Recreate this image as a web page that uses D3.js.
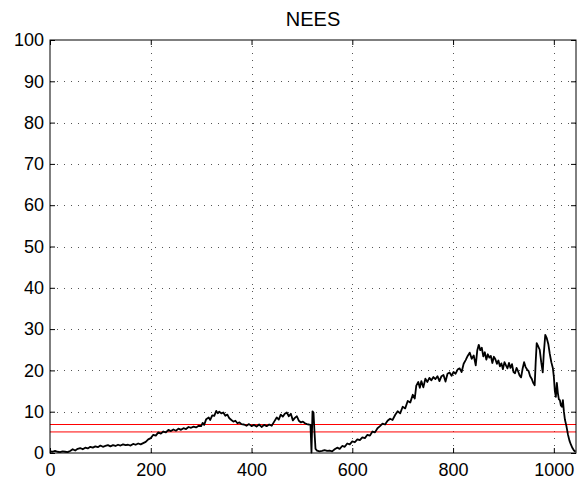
<!DOCTYPE html>
<meta charset="utf-8">
<style>
body { margin: 0; background: #fff; }
text { font-family: "Liberation Sans", Arial, Helvetica, sans-serif; fill: #000; }
.grid line { stroke: #555; stroke-width: 1; stroke-dasharray: 1,6; }
.bound { fill: none; stroke: #f00; stroke-width: 1; }
.nees { fill: none; stroke: #000; stroke-width: 1.8; stroke-linejoin: round; }
.frame { fill: none; stroke: #000; stroke-width: 1; }
.axis path { display: none; }
.axis line { stroke: #000; }
.axis text { font-size: 18px; }
.title { font-size: 20px; }
</style>
<body>
<script src="https://cdn.jsdelivr.net/npm/d3@7"></script>
<script>
var width = 577,
    height = 483;

// sample index and NEES value
var stepX = [0,5,10,15,20,25,30,35,40,45,50,55,60,65,70,75,80,85,90,95,
  100,105,110,115,120,125,130,135,140,145,150,155,160,165,170,175,180,185,190,195,
  200,205,210,215,220,225,230,235,240,245,250,255,260,265,270,275,280,285,290,295,
  300,303,306,310,315,318,322,326,330,333,336,340,344,348,352,356,360,364,368,372,
  376,380,385,390,395,400,405,410,415,420,425,430,435,440,445,450,454,458,462,466,
  470,474,478,482,486,490,494,498,502,506,510,514,517,519,521,523,525,527,530,535,
  540,545,550,555,560,565,570,575,580,585,590,595,600,605,610,615,620,625,630,635,
  640,645,650,655,660,665,670,675,680,685,690,695,700,705,710,715,720,724,727,731,
  734,737,741,745,749,753,757,761,765,769,773,777,781,785,789,793,797,801,805,809,
  813,817,821,825,829,833,837,841,845,848,851,854,857,860,863,866,869,872,875,878,
  881,884,887,890,893,896,899,902,905,908,911,914,917,920,923,926,929,932,935,938,
  941,944,947,950,953,956,959,962,964,966,969,972,975,978,980,983,986,989,992,995,
  998,1000,1002,1004,1006,1008,1010,1012,1014,1016,1018,1020,1022,1025,1028,1031,1034,1037,1040,1043];

var neesY = [0.4,0.3,0.5,0.3,0.2,0.4,0.3,0.2,0.5,0.9,0.6,1.0,1.2,0.9,1.3,1.1,1.5,1.3,1.6,1.4,
  1.8,1.5,1.7,1.9,1.6,1.9,1.7,2.0,1.8,2.1,1.9,2.0,1.8,2.2,2.0,2.3,2.1,2.4,2.7,3.3,
  3.6,4.4,4.2,5.0,4.7,5.2,5.0,5.6,5.3,5.7,5.4,5.9,5.6,6.0,5.8,6.3,6.1,6.4,6.2,6.6,
  6.5,7.3,6.8,8.2,8.6,8.0,9.1,9.0,10.2,9.6,10.0,9.6,9.8,9.0,9.3,8.4,8.0,7.6,7.8,7.2,
  7.4,7.0,6.9,6.6,7.0,6.5,6.8,6.4,6.9,6.3,6.8,6.5,6.9,6.6,7.6,8.6,8.1,9.3,8.8,9.5,
  9.8,8.9,9.5,7.9,8.5,8.9,7.8,7.4,7.6,7.2,7.0,6.9,6.8,0.1,10.1,9.8,5.0,1.0,0.6,0.4,
  0.5,0.7,0.5,0.6,0.4,0.9,1.3,1.0,1.7,1.5,2.3,2.1,2.8,2.6,3.3,3.1,3.8,3.6,4.4,4.2,
  5.2,5.0,6.0,6.5,7.1,6.9,7.8,8.3,8.0,9.2,10.1,9.6,11.2,10.8,12.6,12.2,14.1,13.2,16.3,17.2,
  15.8,17.4,15.9,18.0,17.2,18.2,17.6,18.4,17.9,18.6,17.4,18.6,18.9,17.3,19.2,19.5,18.7,19.6,19.2,20.2,
  20.5,19.6,21.6,22.5,23.5,24.3,22.8,23.6,21.2,24.8,26.2,24.9,25.5,23.4,24.4,22.6,23.9,23.1,23.5,21.8,
  23.3,22.7,21.6,22.4,21.0,21.7,20.3,22.0,21.2,20.5,21.8,20.6,21.5,19.6,19.3,20.6,19.8,18.8,18.3,20.4,
  22.0,20.8,20.2,19.8,18.6,18.0,17.0,16.4,22.0,26.6,25.8,25.0,22.0,19.5,24.0,28.6,27.8,26.4,24.0,22.0,
  20.6,18.5,15.0,13.6,17.0,14.5,13.0,12.8,11.5,11.2,12.8,10.0,8.1,6.5,4.5,3.0,2.0,1.2,0.6,0.3];

// chi-square confidence bounds
var bounds = [5.1, 6.9];

var xTicks = [0, 200, 400, 600, 800, 1000],
    yTicks = [0, 10, 20, 30, 40, 50, 60, 70, 80, 90, 100];

var margin = {top: 40, right: 1, bottom: 30, left: 50};

var x = d3.scaleLinear().domain([0, 1044]).range([margin.left, width - margin.right]);
var y = d3.scaleLinear().domain([0, 100]).range([453, margin.top]);

var svg = d3.select("body").append("svg")
    .attr("width", width)
    .attr("height", height);

// dotted grid
var grid = svg.append("g").attr("class", "grid");
grid.selectAll("line.v")
    .data(xTicks.slice(1))
  .enter().append("line")
    .attr("class", "v")
    .attr("x1", d => Math.round(x(d)) + 0.5).attr("x2", d => Math.round(x(d)) + 0.5)
    .attr("y1", y(0)).attr("y2", y(100));
grid.selectAll("line.h")
    .data(yTicks.slice(1, -1))
  .enter().append("line")
    .attr("class", "h")
    .attr("x1", x(0)).attr("x2", x(1044))
    .attr("y1", d => Math.round(y(d)) + 0.5).attr("y2", d => Math.round(y(d)) + 0.5);

svg.selectAll(".bound")
    .data(bounds)
  .enter().append("line")
    .attr("class", "bound")
    .attr("x1", x(0)).attr("x2", x(1044))
    .attr("y1", d => y(d)).attr("y2", d => y(d));

var line = d3.line()
    .x((d, i) => x(stepX[i]))
    .y(d => y(d));

svg.append("path")
    .datum(neesY)
    .attr("class", "nees")
    .attr("d", line);

// axes with inward ticks (all four sides)
svg.append("g").attr("class", "axis")
    .attr("transform", "translate(0," + y(0) + ")")
    .call(d3.axisBottom(x).tickValues(xTicks).tickFormat(d3.format("d")).tickSizeInner(-5).tickPadding(10))
    .selectAll("text").attr("dy", "0.71em");
svg.append("g").attr("class", "axis")
    .attr("transform", "translate(0," + y(100) + ")")
    .call(d3.axisTop(x).tickValues(xTicks).tickSizeInner(-5).tickFormat(""));
svg.append("g").attr("class", "axis")
    .attr("transform", "translate(" + x(0) + ",0)")
    .call(d3.axisLeft(y).tickValues(yTicks).tickSizeInner(-5).tickPadding(6));
svg.append("g").attr("class", "axis")
    .attr("transform", "translate(" + x(1044) + ",0)")
    .call(d3.axisRight(y).tickValues(yTicks).tickSizeInner(-5).tickFormat(""));

svg.append("rect")
    .attr("class", "frame")
    .attr("x", x(0)).attr("y", y(100))
    .attr("width", x(1044) - x(0))
    .attr("height", y(0) - y(100));

svg.append("text")
    .attr("class", "title")
    .attr("x", (x(0) + x(1044)) / 2)
    .attr("y", 26)
    .attr("text-anchor", "middle")
    .text("NEES");
</script>
